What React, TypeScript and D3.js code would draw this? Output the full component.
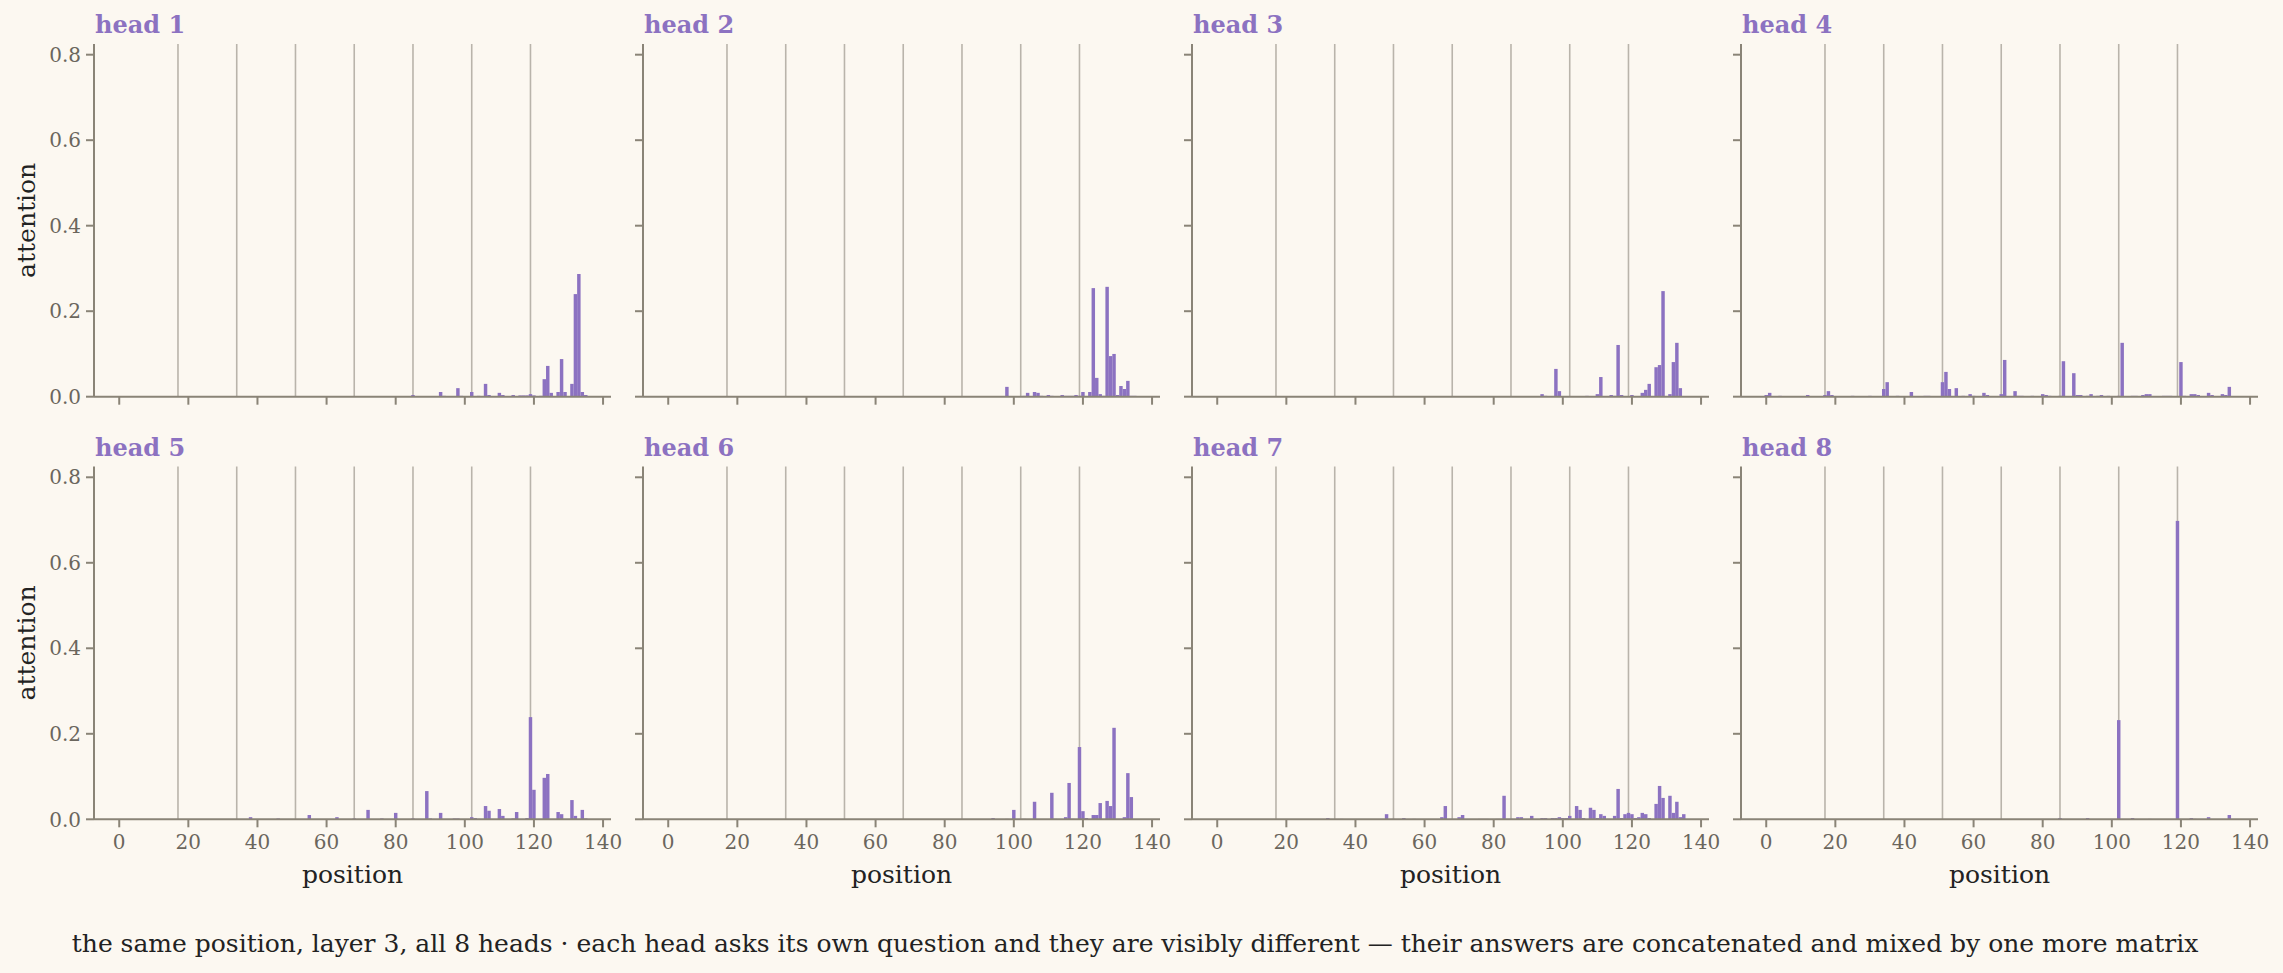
import React from 'react';
import { scaleLinear, range } from 'd3';

// attention per position, one sparse list of [position, weight] per head
const head1: [number, number][] = [
    [85, 0.004], [93, 0.011], [94, 0.002], [98, 0.02], [99, 0.002], [102, 0.011], [104, 0.002], [106, 0.03],
    [107, 0.004], [110, 0.009], [111, 0.004], [114, 0.004], [116, 0.003], [117, 0.003], [118, 0.003], [119, 0.006],
    [120, 0.003], [122, 0.002], [123, 0.041], [124, 0.072], [125, 0.009], [127, 0.011], [128, 0.088], [129, 0.011],
    [131, 0.03], [132, 0.24], [133, 0.287], [134, 0.011], [135, 0.004],
];
const head2: [number, number][] = [
    [98, 0.023], [103, 0.002], [104, 0.009], [106, 0.011], [107, 0.009], [108, 0.002], [110, 0.004], [111, 0.002],
    [114, 0.004], [115, 0.002], [116, 0.002], [117, 0.002], [118, 0.004], [119, 0.002], [120, 0.011], [122, 0.011],
    [123, 0.254], [124, 0.044], [125, 0.006], [126, 0.002], [127, 0.257], [128, 0.095], [129, 0.1], [130, 0.004],
    [131, 0.025], [132, 0.018], [133, 0.037], [134, 0.002], [135, 0.002],
];
const head3: [number, number][] = [
    [94, 0.006], [95, 0.002], [98, 0.065], [99, 0.013], [107, 0.002], [110, 0.006], [111, 0.046], [114, 0.004],
    [115, 0.002], [116, 0.121], [117, 0.004], [120, 0.004], [123, 0.009], [124, 0.016], [125, 0.03], [127, 0.069],
    [128, 0.074], [129, 0.247], [131, 0.006], [132, 0.081], [133, 0.126], [134, 0.02],
];
const head4: [number, number][] = [
    [0, 0.004], [1, 0.009], [4, 0.002], [12, 0.004], [17, 0.004], [18, 0.013], [19, 0.004], [25, 0.002], [30, 0.002],
    [34, 0.018], [35, 0.034], [38, 0.002], [42, 0.011], [46, 0.002], [47, 0.002], [51, 0.034], [52, 0.058], [53, 0.018],
    [55, 0.02], [57, 0.002], [59, 0.006], [60, 0.002], [63, 0.009], [64, 0.004], [68, 0.006], [69, 0.086], [72, 0.013],
    [73, 0.002], [74, 0.002], [77, 0.002], [80, 0.006], [81, 0.004], [82, 0.002], [85, 0.002], [86, 0.083], [89, 0.055],
    [90, 0.004], [91, 0.004], [93, 0.002], [94, 0.006], [96, 0.002], [97, 0.004], [99, 0.002], [102, 0.002], [103, 0.126],
    [106, 0.002], [107, 0.002], [109, 0.004], [110, 0.006], [111, 0.006], [115, 0.002], [116, 0.002], [117, 0.002],
    [120, 0.081], [121, 0.002], [123, 0.006], [124, 0.006], [125, 0.004], [128, 0.009], [129, 0.004], [132, 0.006],
    [133, 0.004], [134, 0.023],
];
const head5: [number, number][] = [
    [38, 0.005], [46, 0.002], [55, 0.01], [63, 0.005], [68, 0.002], [72, 0.022], [76, 0.002], [80, 0.015], [85, 0.002],
    [89, 0.066], [90, 0.002], [93, 0.015], [97, 0.002], [98, 0.002], [102, 0.005], [103, 0.003], [104, 0.001], [106, 0.031],
    [107, 0.02], [110, 0.024], [111, 0.008], [114, 0.002], [115, 0.017], [118, 0.003], [119, 0.239], [120, 0.069],
    [123, 0.097], [124, 0.106], [127, 0.017], [128, 0.012], [131, 0.045], [132, 0.008], [134, 0.022], [135, 0.002],
];
const head6: [number, number][] = [
    [94, 0.003], [98, 0.001], [100, 0.022], [103, 0.001], [106, 0.041], [111, 0.062], [112, 0.001], [115, 0.005],
    [116, 0.085], [117, 0.001], [119, 0.169], [120, 0.019], [121, 0.003], [123, 0.01], [124, 0.01], [125, 0.038],
    [127, 0.043], [128, 0.031], [129, 0.214], [130, 0.001], [131, 0.001], [132, 0.005], [133, 0.108], [134, 0.052],
];
const head7: [number, number][] = [
    [32, 0.003], [36, 0.001], [49, 0.012], [51, 0.001], [54, 0.003], [57, 0.001], [65, 0.005], [66, 0.031], [70, 0.005],
    [71, 0.01], [76, 0.001], [77, 0.001], [78, 0.001], [81, 0.001], [82, 0.001], [83, 0.055], [84, 0.001], [85, 0.001],
    [87, 0.005], [88, 0.005], [91, 0.008], [94, 0.003], [95, 0.003], [97, 0.003], [98, 0.003], [99, 0.005], [100, 0.003],
    [101, 0.003], [102, 0.008], [104, 0.031], [105, 0.022], [106, 0.003], [108, 0.027], [109, 0.022], [110, 0.003],
    [111, 0.012], [112, 0.008], [113, 0.001], [115, 0.008], [116, 0.071], [117, 0.003], [118, 0.012], [119, 0.015],
    [120, 0.012], [121, 0.003], [122, 0.005], [123, 0.015], [124, 0.012], [125, 0.003], [127, 0.036], [128, 0.078],
    [129, 0.05], [130, 0.001], [131, 0.055], [132, 0.015], [133, 0.041], [134, 0.005], [135, 0.012],
];
const head8: [number, number][] = [
    [85, 0.003], [93, 0.003], [102, 0.232], [106, 0.003], [111, 0.001], [119, 0.698], [123, 0.003], [124, 0.001],
    [128, 0.005], [134, 0.01],
];

const heads = [head1, head2, head3, head4, head5, head6, head7, head8];
const headNames = ['head 1', 'head 2', 'head 3', 'head 4', 'head 5', 'head 6', 'head 7', 'head 8'];
// sentence boundaries drawn as thin gray lines
const boundaries = [17, 34, 51, 68, 85, 102, 119];
const xTicks = range(0, 141, 20);
const yTicks = [0, 0.2, 0.4, 0.6, 0.8];
const caption =
    'the same position, layer 3, all 8 heads \u00b7 each head asks its own question and they are visibly different \u2014 their answers are concatenated and mixed by one more matrix';

const W = 2283;
const H = 973;
const BG = '#fcf8f1';
const PURPLE = '#8c72c1';
const SPINE = '#8a8477';
const GRID = '#b9b4ab';
const TICKTXT = '#6b665d';
const FONT = "'DejaVu Serif', serif";

const panelW = 517;
const colStep = 549;
const panelTop = [44, 466.6];
const panelH = 352.7;

if (typeof document !== 'undefined') document.body.style.margin = '0';

function Panel({ idx }: { idx: number }) {
    const col = idx % 4;
    const row = Math.floor(idx / 4);
    const left = 94 + col * colStep;
    const top = panelTop[row];
    const bottom = top + panelH;
    const x = scaleLinear().domain([-7.3, 142.3]).range([left, left + panelW]);
    const y = scaleLinear().domain([0, 0.825]).range([bottom, top]);
    const data = heads[idx];

    return (
        <g>
            {boundaries.map((b) => (
                <line key={b} x1={x(b)} x2={x(b)} y1={top} y2={bottom} stroke={GRID} strokeWidth={1.6} />
            ))}
            {data.map(([p, v]) => (
                <rect
                    key={p}
                    x={x(p - 0.5)}
                    width={x(p + 0.5) - x(p - 0.5)}
                    y={y(v)}
                    height={bottom - y(v)}
                    fill={PURPLE}
                />
            ))}
            <line x1={left} x2={left} y1={top} y2={bottom} stroke={SPINE} strokeWidth={2} />
            <line x1={left} x2={left + panelW} y1={bottom} y2={bottom} stroke={SPINE} strokeWidth={2} />
            {yTicks.map((t) => (
                <g key={t}>
                    <line x1={left - 8} x2={left} y1={y(t)} y2={y(t)} stroke={SPINE} strokeWidth={2} />
                    {col === 0 && (
                        <text
                            x={left - 13}
                            y={y(t)}
                            dy="0.36em"
                            textAnchor="end"
                            fontSize={20}
                            fill={TICKTXT}
                            fontFamily={FONT}
                        >
                            {t.toFixed(1)}
                        </text>
                    )}
                </g>
            ))}
            {xTicks.map((t) => (
                <g key={t}>
                    <line x1={x(t)} x2={x(t)} y1={bottom} y2={bottom + 8} stroke={SPINE} strokeWidth={2} />
                    {row === 1 && (
                        <text
                            x={x(t)}
                            y={bottom + 30}
                            textAnchor="middle"
                            fontSize={20}
                            fill={TICKTXT}
                            fontFamily={FONT}
                        >
                            {t}
                        </text>
                    )}
                </g>
            ))}
            <text x={left + 1} y={top - 11} fontSize={24} fontWeight="bold" fill={PURPLE} fontFamily={FONT}>
                {headNames[idx]}
            </text>
            {col === 0 && (
                <text
                    transform={`translate(35,${(top + bottom) / 2}) rotate(-90)`}
                    textAnchor="middle"
                    fontSize={25}
                    fill="#222"
                    fontFamily={FONT}
                >
                    attention
                </text>
            )}
            {row === 1 && (
                <text
                    x={left + panelW / 2}
                    y={bottom + 64}
                    textAnchor="middle"
                    fontSize={25}
                    fill="#222"
                    fontFamily={FONT}
                >
                    position
                </text>
            )}
        </g>
    );
}

export default function App() {
    return (
        <svg width={W} height={H} style={{ display: 'block', background: BG }}>
            <rect width={W} height={H} fill={BG} />
            {heads.map((_, i) => (
                <Panel key={i} idx={i} />
            ))}
            <text x={1135} y={952} textAnchor="middle" fontSize={25} fill="#222" fontFamily={FONT}>
                {caption}
            </text>
        </svg>
    );
}
